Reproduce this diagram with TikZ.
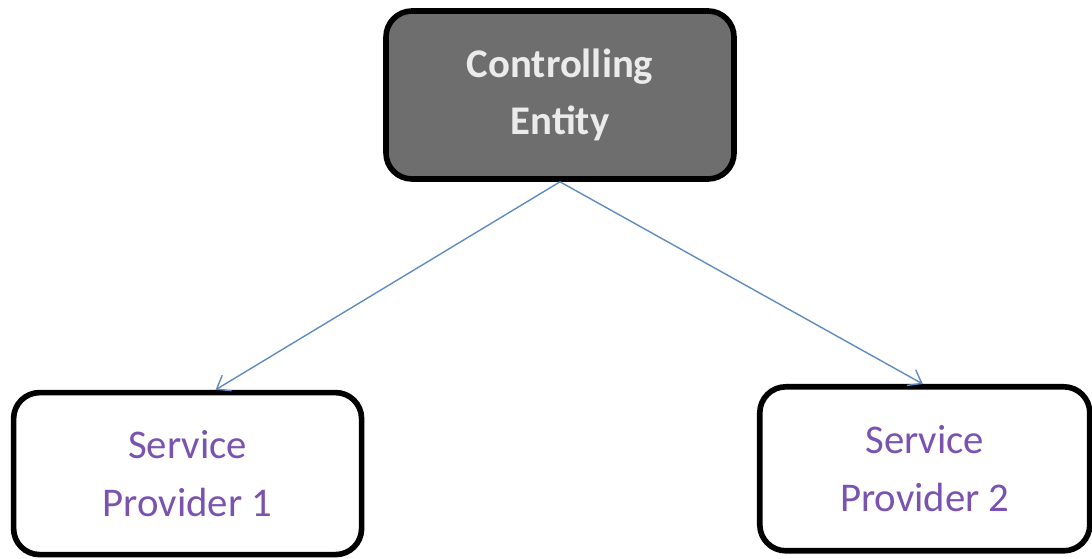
\documentclass[tikz,border=0pt]{standalone}
\usepackage{fontspec}
\setmainfont{Carlito}
\usepackage{tikz}
\usetikzlibrary{positioning, arrows.meta}

\definecolor{boxgray}{HTML}{6E6E6E}
\definecolor{textpurple}{HTML}{7A52B0}
\definecolor{linkblue}{HTML}{5F8CC0}

\begin{document}
\begin{tikzpicture}[
		entitybox/.style={draw=black, line width=4pt, rounded corners=0.65cm, align=center,
			font=\fontsize{29}{41}\selectfont},
		link/.style={draw=linkblue, line width=1pt, -{Straight Barb[length=0.3cm, width=0.45cm]}}
	]
			\useasboundingbox (0, 0) rectangle (27.3, -13.975);
			
			\node[entitybox, fill=boxgray, text=white!92!black, font=\fontsize{29}{41}\selectfont\bfseries,
				minimum width=8.7cm, minimum height=4.2cm] (controller) at (14.0, -2.375) {Controlling\\Entity};
			
			\node[entitybox, fill=white, text=textpurple,
				minimum width=8.7cm, minimum height=4.05cm] (provider1) at (4.69, -11.84) {Service\\Provider 1};
			
			\node[entitybox, fill=white, text=textpurple,
				minimum width=8.25cm, minimum height=4.1cm] (provider2) at (23.12, -11.72) {Service\\Provider 2};
			
			\draw[link] (controller.south) -- ([xshift=0.7cm]provider1.north);
			\draw[link] (controller.south) -- ([xshift=-0.05cm]provider2.north);
		\end{tikzpicture}
\end{document}
